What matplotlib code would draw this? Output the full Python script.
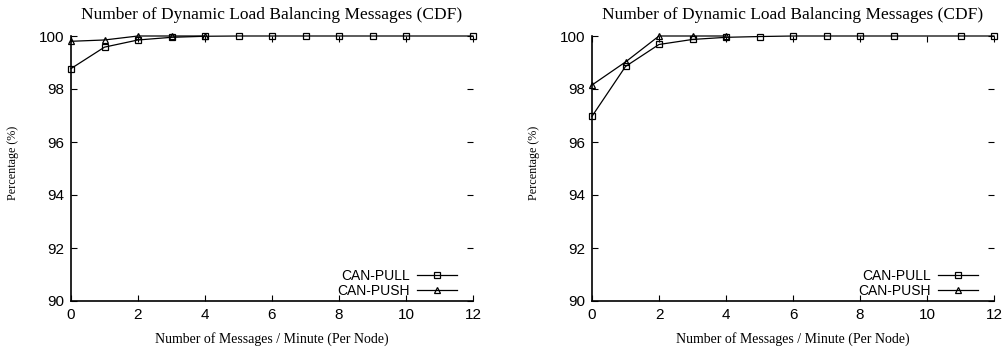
import matplotlib.pyplot as plt

# Data
left_pull_x = [0, 1, 2, 3, 4, 5, 6, 7, 8, 9, 10, 12]
left_pull_y = [98.77, 99.58, 99.85, 99.95, 99.99, 100, 100, 100, 100, 100, 100, 100]
left_push_x = [0, 1, 2, 3, 4]
left_push_y = [99.8, 99.85, 100, 100, 100]

right_pull_x = [0, 1, 2, 3, 4, 5, 6, 7, 8, 9, 11, 12]
right_pull_y = [96.97, 98.85, 99.68, 99.87, 99.95, 99.98, 100, 100, 100, 100, 100, 100]
right_push_x = [0, 1, 2, 3, 4]
right_push_y = [98.15, 99.02, 100, 100, 100]

x_ticks = [0, 2, 4, 6, 8, 10, 12]
y_ticks = [90, 92, 94, 96, 98, 100]

title = "Number of Dynamic Load Balancing Messages (CDF)"
xlabel = "Number of Messages / Minute (Per Node)"
ylabel = "Percentage (%)"

serif = "Liberation Serif"
sans = "Liberation Sans"

fig = plt.figure(figsize=(10.07, 3.48), dpi=100)
ax1 = fig.add_axes([71 / 1007, 1 - 301 / 348, 402 / 1007, 265 / 348])
ax2 = fig.add_axes([592 / 1007, 1 - 301 / 348, 402 / 1007, 265 / 348])

panels = [
    (ax1, left_pull_x, left_pull_y, left_push_x, left_push_y),
    (ax2, right_pull_x, right_pull_y, right_push_x, right_push_y),
]

for ax, px, py, ux, uy in panels:
    ax.plot(px, py, color="black", lw=0.9, marker="s", ms=5, mfc="none",
            mec="black", mew=0.9, label="CAN-PULL", clip_on=False)
    ax.plot(ux, uy, color="black", lw=0.9, marker="^", ms=5, mfc="none",
            mec="black", mew=0.9, label="CAN-PUSH", clip_on=False)
    ax.set_xlim(0, 12)
    ax.set_ylim(90, 100)
    ax.set_xticks(x_ticks)
    ax.set_yticks(y_ticks)
    for s in ["top", "right"]:
        ax.spines[s].set_visible(False)
    for s in ["left", "bottom"]:
        ax.spines[s].set_linewidth(1.2)
    ax.tick_params(direction="in", length=4, width=0.8, top=True, right=True,
                   labelsize=11, pad=5)
    for lab in ax.get_xticklabels() + ax.get_yticklabels():
        lab.set_fontfamily(sans)
    ax.set_title(title, fontfamily=serif, fontsize=12.5, pad=12)
    ax.set_xlabel(xlabel, fontfamily=serif, fontsize=10, labelpad=7)
    ax.set_ylabel(ylabel, fontfamily=serif, fontsize=8.7)
    ax.yaxis.set_label_coords(-0.13, 0.52)
    ax.legend(loc="lower right", markerfirst=False, frameon=False,
              prop={"family": sans, "size": 10}, handlelength=2.9,
              handletextpad=0.5, labelspacing=0.08, borderaxespad=0.0,
              bbox_to_anchor=(0.975, -0.01))

fig.savefig("out.png", dpi=100)
